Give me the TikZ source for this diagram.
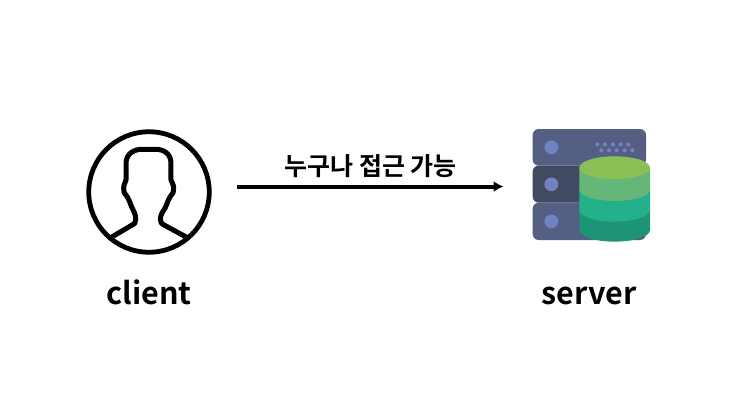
\documentclass[tikz,border=0pt]{standalone}
\usepackage{fontspec}
\usetikzlibrary{arrows.meta}
\setmainfont{Noto Sans CJK KR}[BoldFont={* Bold}]
\definecolor{rack}{HTML}{545F83}
\definecolor{rackdark}{HTML}{424A62}
\definecolor{rackdot}{HTML}{7282C0}
\definecolor{dbtop}{HTML}{8BC057}
\definecolor{dbone}{HTML}{65B777}
\definecolor{dbtwo}{HTML}{25B08C}
\definecolor{dbthree}{HTML}{1D9474}
\tikzset{
  lab/.style={font=\fontsize{30.5}{33}\selectfont\bfseries, inner sep=0pt, anchor=base},
  arrowlab/.style={font=\fontsize{25}{28}\selectfont\bfseries, inner sep=0pt, anchor=base},
  outline/.style={draw=black, line width=4.8pt, line join=round},
}
\begin{document}
\begin{tikzpicture}[x=1pt,y=-1pt]
\useasboundingbox (0,0) rectangle (753,415);
% client icon
\node[circle, outline, minimum size=120.5pt, inner sep=0pt] (client) at (149,192) {};
\begin{scope}[shift={(70,115)},x=.33333pt,y=-.33333pt]
  \draw[black, line width=5pt, line join=round]
    (122,368) -- (183,332) .. controls (195,326) and (198,322) .. (197,312)
    .. controls (197,298) and (192,290) .. (186,278)
    .. controls (180,264) and (176,250) .. (170,243)
    .. controls (162,236) and (161,230) .. (161,220)
    .. controls (161,205) and (167,204) .. (168,195)
    -- (168,145) .. controls (168,118) and (190,103) .. (215,103)
    -- (258,103) .. controls (283,103) and (303,118) .. (303,145)
    -- (303,195) .. controls (304,204) and (311,205) .. (311,220)
    .. controls (311,230) and (310,236) .. (302,243)
    .. controls (296,250) and (292,264) .. (286,278)
    .. controls (278,290) and (272,298) .. (271,312)
    .. controls (270,322) and (274,326) .. (286,332) -- (352,368);
\end{scope}
% server icon
\begin{scope}[shift={(520,115)},x=.33333pt,y=-.33333pt]
  \fill[rack, rounded corners=6pt] (38,42) rectangle (378,152);
  \fill[rack, rounded corners=6pt] (38,263) rectangle (378,375);
  \fill[rackdark, rounded corners=6pt] (38,152) rectangle (378,263);
  \foreach \y in {97,208,319} \fill[rackdot] (94,\y) circle (6.9pt);
  \foreach \x in {232,255,279,302,325} \fill[rackdot] (\x,88) circle (2.1pt);
  \foreach \x in {244,267,290,314,337} \fill[rackdot] (\x,106) circle (2.1pt);
  \fill[dbthree] (178,280) -- (178,345) arc[start angle=180,end angle=0,x radius=106,y radius=35] -- (390,280) -- cycle;
  \fill[dbtwo] (178,220) -- (178,285) arc[start angle=180,end angle=0,x radius=106,y radius=35] -- (390,220) -- cycle;
  \fill[dbone] (178,158) -- (178,223) arc[start angle=180,end angle=0,x radius=106,y radius=35] -- (390,158) -- cycle;
  \fill[dbtop] (284,158) ellipse[x radius=106,y radius=34];
\end{scope}
% connector
\coordinate (from) at (237,186.5);
\coordinate (to) at (503.5,186.5);
\draw[line width=4pt, -{Latex[length=10pt,width=11pt]}] (from) -- (to);
% labels
\node[arrowlab] (access) at (370.5,175) {누구나 접근 가능};
\node[lab] (clientlabel) at (149,304) {client};
\node[lab] (serverlabel) at (589,304) {server};
\end{tikzpicture}
\end{document}
